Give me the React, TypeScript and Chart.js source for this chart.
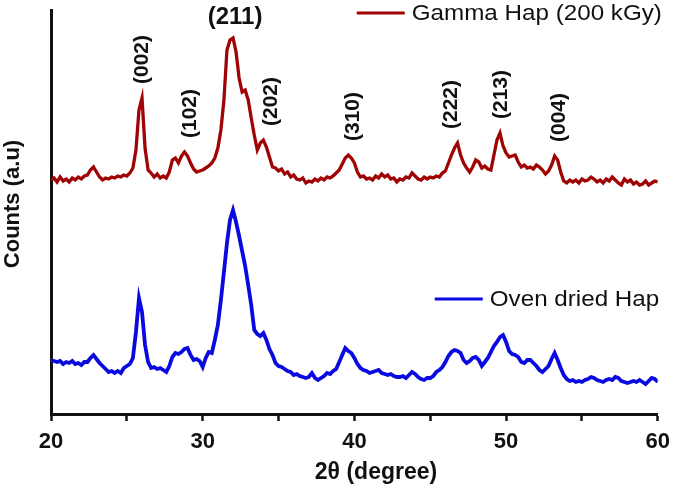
import { useEffect, useRef } from 'react';
import { Chart, registerables } from 'chart.js';

Chart.register(...registerables);

const FONT = '"Liberation Sans", Arial, sans-serif';

// 2θ values (degree)
const angles = [
  20, 20.2, 20.4, 20.6, 20.8, 21, 21.2, 21.4, 21.6, 21.8,
  22, 22.2, 22.4, 22.6, 22.8, 23, 23.2, 23.4, 23.6, 23.8,
  24, 24.2, 24.4, 24.6, 24.8, 25, 25.2, 25.4, 25.6, 25.8,
  26, 26.2, 26.4, 26.6, 26.8, 27, 27.2, 27.4, 27.6, 27.8,
  28, 28.2, 28.4, 28.6, 28.8, 29, 29.2, 29.4, 29.6, 29.8,
  30, 30.2, 30.4, 30.6, 30.8, 31, 31.2, 31.4, 31.6, 31.8,
  32, 32.2, 32.4, 32.6, 32.8, 33, 33.2, 33.4, 33.6, 33.8,
  34, 34.2, 34.4, 34.6, 34.8, 35, 35.2, 35.4, 35.6, 35.8,
  36, 36.2, 36.4, 36.6, 36.8, 37, 37.2, 37.4, 37.6, 37.8,
  38, 38.2, 38.4, 38.6, 38.8, 39, 39.2, 39.4, 39.6, 39.8,
  40, 40.2, 40.4, 40.6, 40.8, 41, 41.2, 41.4, 41.6, 41.8,
  42, 42.2, 42.4, 42.6, 42.8, 43, 43.2, 43.4, 43.6, 43.8,
  44, 44.2, 44.4, 44.6, 44.8, 45, 45.2, 45.4, 45.6, 45.8,
  46, 46.2, 46.4, 46.6, 46.8, 47, 47.2, 47.4, 47.6, 47.8,
  48, 48.2, 48.4, 48.6, 48.8, 49, 49.2, 49.4, 49.6, 49.8,
  50, 50.2, 50.4, 50.6, 50.8, 51, 51.2, 51.4, 51.6, 51.8,
  52, 52.2, 52.4, 52.6, 52.8, 53, 53.2, 53.4, 53.6, 53.8,
  54, 54.2, 54.4, 54.6, 54.8, 55, 55.2, 55.4, 55.6, 55.8,
  56, 56.2, 56.4, 56.6, 56.8, 57, 57.2, 57.4, 57.6, 57.8,
  58, 58.2, 58.4, 58.6, 58.8, 59, 59.2, 59.4, 59.6, 59.8,
  60,
];

// Gamma Hap (200 kGy), counts in a.u. (trace is offset upwards)
const gammaCounts = [
  234, 236, 232, 237, 233, 235, 232, 236, 234, 237,
  235, 238, 239, 244, 247, 242, 237, 234, 236, 235,
  237, 236, 238, 237, 239, 238, 241, 246, 264, 304,
  316, 266, 244, 241, 237, 240, 236, 238, 236, 242,
  254, 256, 251, 258, 262, 258, 251, 245, 242, 243,
  244, 246, 248, 251, 256, 266, 284, 314, 364, 374,
  376, 362, 336, 322, 324, 314, 296, 279, 264, 271,
  274, 267, 257, 247, 246, 243, 245, 240, 242, 237,
  239, 235, 234, 236, 231, 233, 232, 235, 233, 236,
  234, 237, 236, 238, 241, 244, 250, 256, 259, 256,
  251, 242, 237, 238, 235, 236, 234, 238, 236, 240,
  237, 239, 235, 236, 232, 235, 234, 237, 236, 241,
  238, 235, 234, 237, 235, 237, 236, 238, 237, 241,
  243, 251, 259, 266, 271, 259, 251, 246, 242, 247,
  254, 252, 246, 248, 245, 244, 259, 274, 281, 268,
  261, 257, 258, 259, 252, 247, 249, 246, 247, 245,
  249, 247, 244, 240, 243, 249, 258, 254, 242, 233,
  231, 234, 232, 234, 231, 235, 233, 234, 237, 235,
  232, 234, 231, 235, 233, 237, 234, 231, 229, 235,
  232, 234, 230, 232, 229, 230, 233, 229, 231, 233,
  232,
];

// Oven dried Hap, counts in a.u.
const ovenCounts = [
  54, 53, 52, 53, 50, 52, 51, 53, 50, 51,
  49, 52, 52, 56, 59, 55, 51, 48, 45, 42,
  43, 41, 43, 41, 46, 48, 50, 56, 82, 116,
  102, 69, 52, 46, 47, 45, 46, 44, 42, 48,
  57, 61, 60, 62, 65, 66, 59, 54, 55, 53,
  47, 56, 62, 61, 74, 89, 114, 142, 171, 194,
  204, 192, 178, 163, 148, 129, 109, 84, 80, 78,
  81, 74, 65, 59, 51, 48, 47, 45, 43, 42,
  39, 40, 38, 37, 36, 37, 41, 36, 34, 36,
  38, 41, 40, 43, 45, 52, 59, 66, 63, 61,
  56, 50, 46, 44, 43, 41, 42, 43, 44, 41,
  40, 39, 40, 38, 37, 37, 38, 36, 39, 42,
  40, 37, 35, 34, 36, 36, 38, 42, 44, 47,
  52, 58, 62, 64, 63, 61, 54, 51, 53, 56,
  57, 54, 48, 52, 56, 62, 68, 72, 77, 79,
  72, 63, 60, 59, 57, 52, 51, 54, 54, 51,
  48, 44, 42, 45, 48, 55, 61, 54, 46, 39,
  35, 33, 34, 32, 33, 32, 34, 35, 37, 36,
  34, 33, 32, 34, 35, 34, 37, 36, 33, 32,
  31, 32, 33, 32, 34, 32, 30, 33, 36, 35,
  32,
];

const peakLabels = ['(002)', '(102)', '(211)', '(202)', '(310)', '(222)', '(213)', '(004)'];
const peakAngles = [26.0, 29.2, 32.0, 34.5, 39.9, 46.4, 49.7, 53.5];

const seriesNames = ['Gamma Hap (200 kGy)', 'Oven dried Hap'];
const seriesColors = ['#a00303', '#0a0ae0'];

// peak labels, the two in-plot legend entries and the axis titles
const overlayPlugin = {
  id: 'overlay',
  afterDraw(chart: Chart) {
    const { ctx, chartArea } = chart;
    const x = chart.scales.x;
    const y = chart.scales.y;
    ctx.save();
    ctx.fillStyle = '#111';

    peakLabels.forEach((label, i) => {
      const a = peakAngles[i];
      let top = 0;
      angles.forEach((v, j) => {
        if (Math.abs(v - a) <= 0.6) top = Math.max(top, gammaCounts[j]);
      });
      const px = x.getPixelForValue(a);
      const py = y.getPixelForValue(top);
      if (label === '(211)') {
        ctx.font = `bold 24px ${FONT}`;
        ctx.textAlign = 'center';
        ctx.textBaseline = 'middle';
        ctx.fillText(label, px + 2, py - 21);
      } else {
        ctx.save();
        ctx.translate(px, py - 14);
        ctx.rotate(-Math.PI / 2);
        ctx.font = `bold 21px ${FONT}`;
        ctx.textAlign = 'left';
        ctx.textBaseline = 'middle';
        ctx.fillText(label, 0, 0);
        ctx.restore();
      }
    });

    // legend entries
    const legendRows = [chartArea.top + 3, chartArea.top + 289];
    const legendLeft = [chartArea.right - 301, chartArea.right - 223];
    seriesNames.forEach((name, i) => {
      const lx = legendLeft[i];
      const ly = legendRows[i];
      ctx.strokeStyle = seriesColors[i];
      ctx.lineWidth = 3;
      ctx.beginPath();
      ctx.moveTo(lx, ly);
      ctx.lineTo(lx + 48, ly);
      ctx.stroke();
      ctx.save();
      ctx.translate(lx + 55, ly + 1);
      ctx.scale(1.1, 1);
      ctx.font = `22px ${FONT}`;
      ctx.textAlign = 'left';
      ctx.textBaseline = 'middle';
      ctx.fillText(name, 0, 0);
      ctx.restore();
    });

    // axis titles
    ctx.font = `bold 23px ${FONT}`;
    ctx.textAlign = 'center';
    ctx.textBaseline = 'middle';
    ctx.fillText('2θ (degree)', 376, 473);

    ctx.save();
    ctx.translate(13, 204);
    ctx.rotate(-Math.PI / 2);
    ctx.font = `bold 22px ${FONT}`;
    ctx.fillText('Counts (a.u)', 0, 0);
    ctx.restore();

    ctx.restore();
  },
};

export default function App() {
  const chartRef = useRef<HTMLCanvasElement>(null);
  const chartInstance = useRef<Chart | null>(null);

  useEffect(() => {
    if (!chartRef.current) return;
    if (chartInstance.current) chartInstance.current.destroy();

    const ctx = chartRef.current.getContext('2d');
    if (!ctx) return;

    Chart.defaults.font.family = FONT;

    chartInstance.current = new Chart(ctx, {
      type: 'line',
      data: {
        datasets: [
          {
            label: seriesNames[0],
            data: angles.map((a, i) => ({ x: a, y: gammaCounts[i] })),
            borderColor: seriesColors[0],
            borderWidth: 3.3,
            pointRadius: 0,
            tension: 0,
          },
          {
            label: seriesNames[1],
            data: angles.map((a, i) => ({ x: a, y: ovenCounts[i] })),
            borderColor: seriesColors[1],
            borderWidth: 3.8,
            pointRadius: 0,
            tension: 0,
          },
        ],
      },
      options: {
        responsive: true,
        maintainAspectRatio: false,
        animation: false,
        layout: { padding: { top: 10, right: 20, left: 0, bottom: 0 } },
        plugins: {
          legend: { display: false },
          tooltip: { enabled: false },
        },
        scales: {
          x: {
            type: 'linear',
            min: 20,
            max: 60,
            afterFit: (scale) => {
              scale.height = 81;
            },
            border: { display: true, color: '#111', width: 3 },
            grid: {
              drawOnChartArea: false,
              drawTicks: true,
              tickLength: 7,
              tickWidth: 2.5,
              tickColor: '#111',
            },
            ticks: {
              stepSize: 5,
              autoSkip: false,
              maxRotation: 0,
              padding: 8,
              color: '#111',
              font: { size: 22, weight: 'bold' },
              callback: (v) => (Number(v) % 10 === 0 ? String(v) : ''),
            },
          },
          y: {
            min: 0,
            max: 404,
            afterFit: (scale) => {
              scale.width = 51;
            },
            border: { display: true, color: '#111', width: 3 },
            grid: { display: false },
            ticks: { display: false },
          },
        },
      },
      plugins: [overlayPlugin],
    });

    return () => {
      if (chartInstance.current) {
        chartInstance.current.destroy();
        chartInstance.current = null;
      }
    };
  }, []);

  return (
    <div style={{ position: 'fixed', left: 0, top: 0, width: 678, height: 495, background: '#fff' }}>
      <canvas ref={chartRef} />
    </div>
  );
}
